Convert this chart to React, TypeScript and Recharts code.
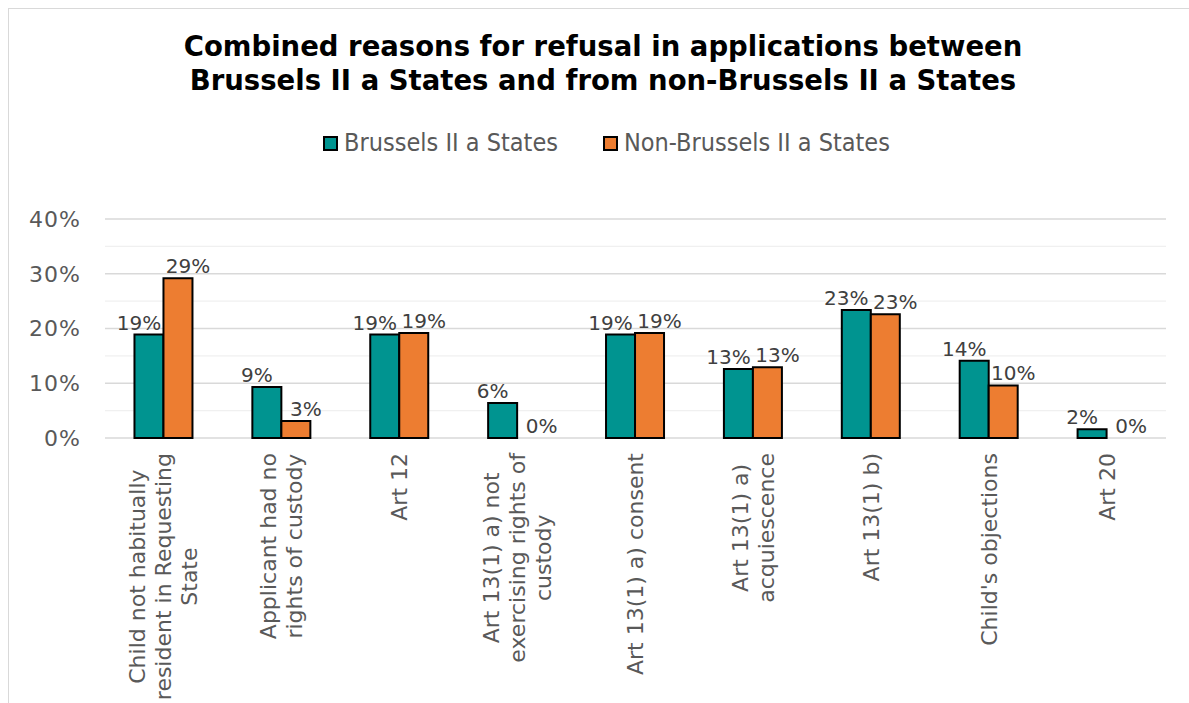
import React from 'react';
import { BarChart, Bar, XAxis, YAxis, CartesianGrid, Legend, LabelList } from 'recharts';

const categories = [
  'Child not habitually resident in Requesting State',
  'Applicant had no rights of custody',
  'Art 12',
  'Art 13(1) a) not exercising rights of custody',
  'Art 13(1) a) consent',
  'Art 13(1) a) acquiescence',
  'Art 13(1) b)',
  "Child's objections",
  'Art 20',
];

// how the axis labels wrap in the original
const categoryLines = [
  ['Child not habitually', 'resident in Requesting', 'State'],
  ['Applicant had no', 'rights of custody'],
  ['Art 12'],
  ['Art 13(1) a) not', 'exercising rights of', 'custody'],
  ['Art 13(1) a) consent'],
  ['Art 13(1) a)', 'acquiescence'],
  ['Art 13(1) b)'],
  ["Child's objections"],
  ['Art 20'],
];

const brusselsValues = [18.9, 9.3, 18.9, 6.4, 18.9, 12.6, 23.4, 14.1, 1.6];
const nonBrusselsValues = [29.2, 3.1, 19.2, 0, 19.2, 12.9, 22.6, 9.6, 0];

const yTicks = [0, 10, 20, 30, 40];
const minorTicks = [5, 15, 25, 35];

const series = [
  { key: 'brussels', name: 'Brussels II a States', color: '#009490' },
  { key: 'nonBrussels', name: 'Non-Brussels II a States', color: '#ED7D31' },
];

const data = categories.map((name, i) => ({
  name,
  brussels: brusselsValues[i],
  nonBrussels: nonBrusselsValues[i],
}));

const FONT = '"DejaVu Sans", Verdana, sans-serif';
const AXIS_GREY = '#595959';
const LABEL_SIZE = 20;

let measureCtx: CanvasRenderingContext2D | null = null;
const textWidth = (s: string, size: number) => {
  if (!measureCtx) measureCtx = document.createElement('canvas').getContext('2d');
  if (!measureCtx) return s.length * size * 0.6;
  measureCtx.font = `${size}px "DejaVu Sans"`;
  return measureCtx.measureText(s).width;
};

const CategoryTick = (props: any) => {
  const { x, y, payload } = props;
  const lines = categoryLines[payload.index] || [payload.value];
  const size = 22;
  const lineGap = 26;
  const maxW = Math.max(...lines.map((l) => textWidth(l, size)));
  const top = y + 15;
  const cy = top + maxW / 2;
  return (
    <g>
      {lines.map((line, i) => {
        const lx = x + (i - (lines.length - 1) / 2) * lineGap;
        return (
          <text
            key={i}
            x={lx}
            y={cy}
            transform={`rotate(-90, ${lx}, ${cy})`}
            textAnchor="middle"
            dominantBaseline="central"
            fontSize={size}
            fontFamily={FONT}
            fill={AXIS_GREY}
          >
            {line}
          </text>
        );
      })}
    </g>
  );
};

const valueText = (key: string, x: number, y: number, value: number) => (
  <text
    key={key}
    x={x}
    y={y}
    textAnchor="middle"
    fontSize={LABEL_SIZE}
    fontFamily={FONT}
    fill="#404040"
  >
    {Math.round(value)}%
  </text>
);

// teal label; also writes the "0%" of an empty orange bar next to it,
// since zero-height bars get no label of their own
const BrusselsLabel = (props: any) => {
  const { x, y, width, value, index } = props;
  const h = props.height ?? props.viewBox?.height ?? 0;
  const base = y + h;
  const other = nonBrusselsValues[index];
  return (
    <g>
      {valueText('a', x + width / 2 - 10, y - 5, value)}
      {other === 0 ? valueText('b', x + width * 1.5 + 10, base - 5, 0) : null}
    </g>
  );
};

const NonBrusselsLabel = (props: any) => {
  const { x, y, width, value } = props;
  if (!value) return null;
  return valueText('a', x + width / 2 + 10, y - 5, value);
};

const LegendContent = () => (
  <div
    style={{
      display: 'flex',
      justifyContent: 'center',
      gap: 45,
      fontFamily: '"DejaVu Sans Condensed", "DejaVu Sans", sans-serif',
      fontStretch: 'condensed',
      fontSize: 25,
      lineHeight: '30px',
      color: AXIS_GREY,
    }}
  >
    {series.map((s) => (
      <div key={s.key} style={{ display: 'flex', alignItems: 'center' }}>
        <span
          style={{
            width: 11,
            height: 11,
            background: s.color,
            border: '2px solid #000',
            marginRight: 6,
          }}
        />
        <span>{s.name}</span>
      </div>
    ))}
  </div>
);

export default function App() {
  return (
    <div style={{ position: 'relative', width: 1189, height: 703, background: '#fff', overflow: 'hidden' }}>
      <style>{'body{margin:0;overflow:hidden}'}</style>
      <div
        style={{
          position: 'absolute',
          left: 8,
          top: 8,
          width: 1300,
          height: 800,
          borderLeft: '1.5px solid #d9d9d9',
          borderTop: '1.5px solid #d9d9d9',
        }}
      />
      <div
        style={{
          position: 'absolute',
          top: 29,
          left: 0,
          width: 1206,
          textAlign: 'center',
          fontFamily: FONT,
          fontWeight: 'bold',
          fontSize: 27.5,
          lineHeight: '34px',
          color: '#000',
        }}
      >
        Combined reasons for refusal in applications between
        <br />
        Brussels II a States and from non-Brussels II a States
      </div>
      <div style={{ position: 'absolute', left: 0, top: 0 }}>
        <BarChart
          width={1189}
          height={703}
          data={data}
          margin={{ top: 189, right: 23, bottom: 0, left: 0 }}
          barCategoryGap="25%"
          barGap={0}
        >
          <CartesianGrid horizontalValues={minorTicks} vertical={false} stroke="#f0f0f0" strokeWidth={1.3} />
          <CartesianGrid vertical={false} stroke="#d9d9d9" strokeWidth={1.5} />
          <XAxis
            dataKey="name"
            height={265}
            axisLine={false}
            tickLine={false}
            tickSize={0}
            tickMargin={0}
            interval={0}
            tick={<CategoryTick />}
          />
          <YAxis
            width={105}
            domain={[0, 40]}
            ticks={yTicks}
            tickFormatter={(v) => `${v}%`}
            axisLine={false}
            tickLine={false}
            tickSize={0}
            tickMargin={24}
            tick={{ fontSize: 22, fontFamily: FONT, fill: AXIS_GREY, letterSpacing: 1 }}
          />
          <Legend
            verticalAlign="top"
            content={<LegendContent />}
            wrapperStyle={{ top: 128, left: 12, width: 1189 }}
          />
          <Bar
            dataKey="brussels"
            name={series[0].name}
            fill={series[0].color}
            stroke="#000"
            strokeWidth={2}
            isAnimationActive={false}
          >
            <LabelList dataKey="brussels" content={BrusselsLabel} />
          </Bar>
          <Bar
            dataKey="nonBrussels"
            name={series[1].name}
            fill={series[1].color}
            stroke="#000"
            strokeWidth={2}
            isAnimationActive={false}
          >
            <LabelList dataKey="nonBrussels" content={NonBrusselsLabel} />
          </Bar>
        </BarChart>
      </div>
    </div>
  );
}
